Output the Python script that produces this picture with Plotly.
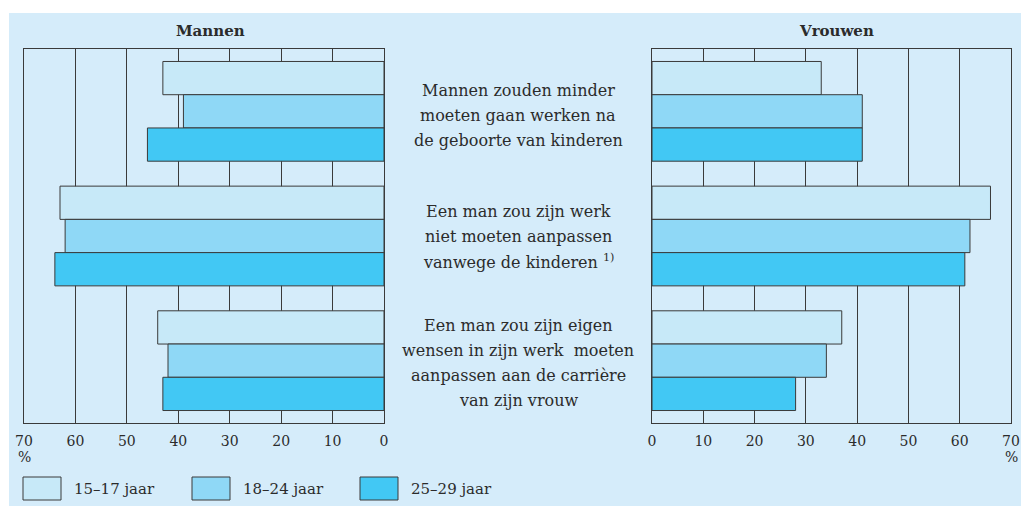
import plotly.graph_objects as go

W, H = 1021, 506

# ---------------- data ----------------
statements = [
    ["Mannen zouden minder", "moeten gaan werken na", "de geboorte van kinderen"],
    ["Een man zou zijn werk", "niet moeten aanpassen", "vanwege de kinderen <sup>1)</sup>"],
    ["Een man zou zijn eigen", "wensen in zijn werk  moeten", "aanpassen aan de carrière", "van zijn vrouw"],
]
categories = ["s1", "s2", "s3"]
age_groups = ["15–17 jaar", "18–24 jaar", "25–29 jaar"]

mannen_15_17 = [43, 63, 44]
mannen_18_24 = [39, 62, 42]
mannen_25_29 = [46, 64, 43]

vrouwen_15_17 = [33, 66, 37]
vrouwen_18_24 = [41, 62, 34]
vrouwen_25_29 = [41, 61, 28]

tick_values = [0, 10, 20, 30, 40, 50, 60, 70]
panel_titles = ["Mannen", "Vrouwen"]

# ---------------- style ----------------
colors = ["#C7E9F8", "#8FD8F6", "#42C8F4"]
panel_bg = "#D5ECFA"
line_col = "#3a3a3a"
txt_col = "#2b2b2b"
FONT = "DejaVu Serif"

def px_x(x):
    return x / W

def px_y(y):
    return 1 - y / H

fig = go.Figure()

mannen = [mannen_15_17, mannen_18_24, mannen_25_29]
vrouwen = [vrouwen_15_17, vrouwen_18_24, vrouwen_25_29]
for i, name in enumerate(age_groups):
    fig.add_trace(go.Bar(y=categories, x=mannen[i], orientation="h", name=name,
                         marker=dict(color=colors[i], line=dict(color=line_col, width=1)),
                         xaxis="x", yaxis="y", showlegend=False, offsetgroup=str(i)))
    fig.add_trace(go.Bar(y=categories, x=vrouwen[i], orientation="h", name=name,
                         marker=dict(color=colors[i], line=dict(color=line_col, width=1)),
                         xaxis="x2", yaxis="y2", showlegend=False, offsetgroup=str(i)))

y_dom = [px_y(423), px_y(49)]
xcommon = dict(tickvals=tick_values, showgrid=True, gridcolor=line_col, gridwidth=1,
               showline=True, linecolor=line_col, linewidth=1, mirror=True,
               zeroline=False, ticks="outside", ticklen=5, tickcolor="rgba(0,0,0,0)",
               tickfont=dict(family=FONT, size=14, color=txt_col), fixedrange=True,
               automargin=False)
ycommon = dict(categoryorder="array", categoryarray=categories, range=[2.5, -0.5],
               showticklabels=False, showgrid=False, showline=True, linecolor=line_col,
               linewidth=1, mirror=True, ticks="", zeroline=False, domain=y_dom, fixedrange=True,
               automargin=False)

fig.update_layout(
    template="none",
    width=W, height=H, autosize=False,
    margin=dict(l=0, r=0, t=0, b=0, pad=0, autoexpand=False),
    paper_bgcolor="white", plot_bgcolor="white",
    barmode="group", bargap=0.2, bargroupgap=0,
    xaxis=dict(domain=[px_x(24), px_x(384)], range=[70, 0], anchor="y", **xcommon),
    xaxis2=dict(domain=[px_x(652), px_x(1011)], range=[0, 70], anchor="y2", **xcommon),
    yaxis=dict(anchor="x", **ycommon),
    yaxis2=dict(anchor="x2", matches="y", **ycommon),
    showlegend=False, hovermode=False,
)

shapes = [dict(type="rect", xref="paper", yref="paper", x0=px_x(9), x1=1, y0=0, y1=px_y(13),
               fillcolor=panel_bg, line=dict(width=0), layer="below")]

annotations = []
title_x = [210, 836]
for t, tx in zip(panel_titles, title_x):
    annotations.append(dict(text="<b>" + t + "</b>", x=px_x(tx), y=px_y(31), xref="paper", yref="paper",
                            xanchor="center", yanchor="middle", showarrow=False,
                            font=dict(family=FONT, size=15, color=txt_col)))

group_shift = [4, 0, 2]
for ci, lines in enumerate(statements):
    n = len(lines)
    for li, line in enumerate(lines):
        off = (li - (n - 1) / 2) * 25 + group_shift[ci]
        annotations.append(dict(text=line, x=px_x(518), y=categories[ci], xref="paper", yref="y",
                                yshift=-off, showarrow=False, xanchor="center", yanchor="middle",
                                font=dict(family=FONT, size=16, color=txt_col)))

for px in (24, 1011):
    annotations.append(dict(text="%", x=px_x(px), y=px_y(457), xref="paper", yref="paper",
                            xanchor="center", yanchor="middle", showarrow=False,
                            font=dict(family=FONT, size=14, color=txt_col)))

leg_x = [23, 192, 360]
for i, name in enumerate(age_groups):
    shapes.append(dict(type="rect", xref="paper", yref="paper", x0=px_x(leg_x[i]), x1=px_x(leg_x[i] + 38),
                       y0=px_y(500), y1=px_y(477), fillcolor=colors[i], line=dict(color=line_col, width=1)))
    annotations.append(dict(text=name, x=px_x(leg_x[i] + 49), y=px_y(489), xref="paper", yref="paper",
                            xanchor="left", yanchor="middle", showarrow=False,
                            font=dict(family=FONT, size=15, color=txt_col)))

fig.update_layout(shapes=shapes, annotations=annotations)
fig.write_html("out.html",
               config={"responsive": False, "displayModeBar": False, "staticPlot": True},
               post_script="document.body.style.margin='0';document.body.style.overflow='hidden';"
                           "document.documentElement.style.overflow='hidden';")
